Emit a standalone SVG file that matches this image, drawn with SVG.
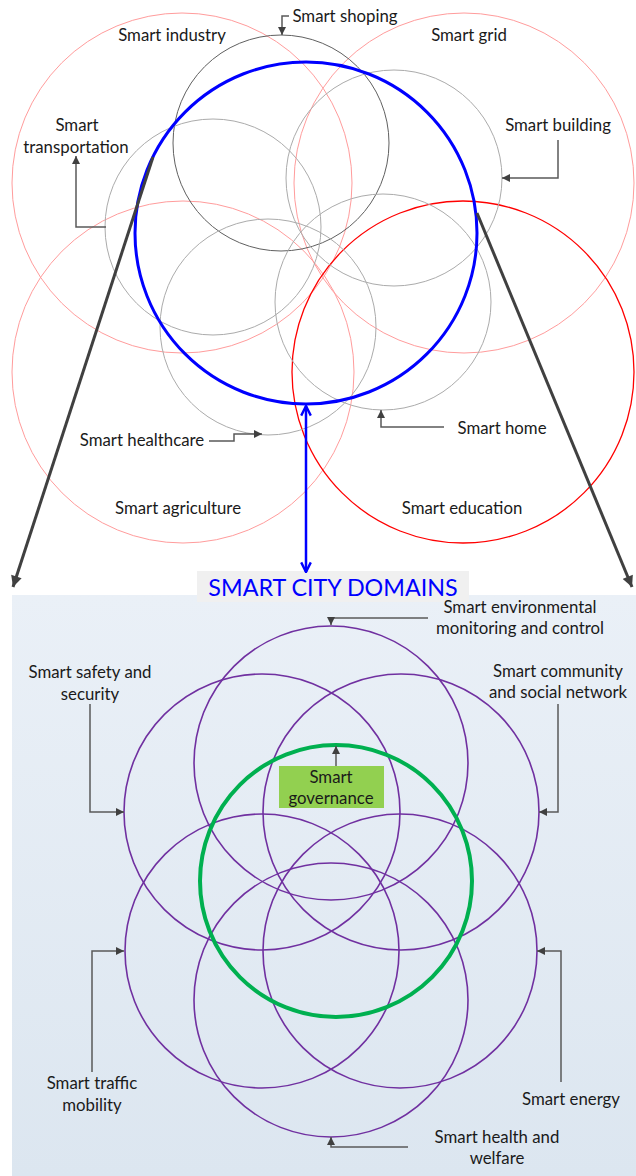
<svg xmlns="http://www.w3.org/2000/svg" width="636" height="1176" viewBox="0 0 636 1176">
<style>
text{font-family:Lato,"Liberation Sans",sans-serif;font-size:16.8px;fill:#1a1a1a;text-anchor:middle}
.pink{fill:none;stroke:#ff9c9c;stroke-width:1}
.red{fill:none;stroke:#ff0000;stroke-width:1.3}
.dg{fill:none;stroke:#606060;stroke-width:1}
.lg{fill:none;stroke:#ababab;stroke-width:1}
.pur{fill:none;stroke:#7030a0;stroke-width:1.6}
.con{fill:none;stroke:#595959;stroke-width:1.5;marker-end:url(#ah)}
.big{fill:none;stroke:#404040;stroke-width:3;marker-end:url(#bh)}
</style>
<defs>
<marker id="ah" viewBox="0 0 10 10" refX="10" refY="5" markerWidth="8" markerHeight="8" markerUnits="userSpaceOnUse" orient="auto"><path d="M0,0 L10,5 L0,10 z" fill="#404040"/></marker>
<marker id="bh" viewBox="0 0 10 10" refX="10" refY="5" markerWidth="13" markerHeight="11" markerUnits="userSpaceOnUse" orient="auto"><path d="M0,0 L10,5 L0,10 z" fill="#404040"/></marker>
<marker id="bc" viewBox="0 0 10 10" refX="9" refY="5" markerWidth="12" markerHeight="12" markerUnits="userSpaceOnUse" orient="auto-start-reverse"><path d="M1,1 L9,5 L1,9" fill="none" stroke="#0000ff" stroke-width="2"/></marker>
<linearGradient id="pg" x1="0" y1="0" x2="0" y2="1"><stop offset="0" stop-color="#eaf0f7"/><stop offset="1" stop-color="#dce6f0"/></linearGradient>
</defs>

<rect id="panel" x="12" y="595" width="624" height="581" fill="url(#pg)"/>

<g id="smart-industry"><circle class="pink" cx="182" cy="183" r="170"/><text x="172" y="41">Smart industry</text></g>
<g id="smart-grid"><circle class="pink" cx="464" cy="183" r="170"/><text x="469" y="41">Smart grid</text></g>
<g id="smart-agriculture"><circle class="pink" cx="183" cy="372" r="171"/><text x="178" y="514">Smart agriculture</text></g>
<g id="smart-education"><circle class="red" cx="463" cy="372" r="171"/><text x="462" y="514">Smart education</text></g>
<g id="smart-shoping"><circle class="dg" cx="281" cy="143" r="108"/><text x="345" y="22">Smart shoping</text></g>
<g id="smart-transportation"><circle class="lg" cx="213" cy="227" r="108"/><text x="77" y="131">Smart</text><text x="76" y="153">transportation</text></g>
<g id="smart-building"><circle class="lg" cx="394" cy="178" r="108"/><text x="558" y="131">Smart building</text></g>
<g id="smart-healthcare"><circle class="lg" cx="268" cy="327" r="108"/><text x="142" y="446">Smart healthcare</text></g>
<g id="smart-home"><circle class="lg" cx="383" cy="302" r="108"/><text x="502" y="434">Smart home</text></g>
<g id="smart-city-core"><circle cx="306" cy="233" r="171" fill="none" stroke="#0000ff" stroke-width="3"/></g>

<g id="smart-city-domains"><rect x="197" y="571" width="272" height="31" fill="#f0f0f0"/><text x="333" y="596" style="font-size:23.3px;fill:#0000ff">SMART CITY DOMAINS</text></g>

<g id="smart-environmental"><circle class="pur" cx="331" cy="763" r="137"/><text x="520" y="613">Smart environmental</text><text x="520" y="634">monitoring and control</text></g>
<g id="smart-safety"><circle class="pur" cx="262" cy="812" r="138"/><text x="90" y="678">Smart safety and</text><text x="90" y="700">security</text></g>
<g id="smart-community"><circle class="pur" cx="401" cy="812" r="138"/><text x="558" y="677">Smart community</text><text x="558" y="698">and social network</text></g>
<g id="smart-traffic"><circle class="pur" cx="262" cy="951" r="137"/><text x="92" y="1089">Smart traffic</text><text x="92" y="1111">mobility</text></g>
<g id="smart-energy"><circle class="pur" cx="400" cy="951" r="137"/><text x="571" y="1105">Smart energy</text></g>
<g id="smart-health"><circle class="pur" cx="331" cy="1000" r="137"/><text x="497" y="1143">Smart health and</text><text x="497" y="1164">welfare</text></g>
<g id="smart-governance-ring"><circle cx="336" cy="881" r="136" fill="none" stroke="#00b050" stroke-width="4"/></g>
<g id="smart-governance"><rect x="279" y="766" width="105" height="42" fill="#92d050"/><text x="331" y="783">Smart</text><text x="331" y="804">governance</text></g>

<g id="connectors">
<path class="con" d="M289 16 H282 V35"/>
<path class="con" d="M106 227 H76 V156"/>
<path class="con" d="M558 140 V178 H502"/>
<path class="con" d="M209 441 H234 V434 H262"/>
<path class="con" d="M444 427 H381 V410"/>
<path class="big" d="M153 157 L13 587"/>
<path class="big" d="M477 213 L632 587"/>
<path d="M306 406 V572" fill="none" stroke="#0000ff" stroke-width="2.5" marker-start="url(#bc)" marker-end="url(#bc)"/>
<path class="con" d="M428 618 H331 V625"/>
<path class="con" d="M90 704 V812 H124"/>
<path class="con" d="M558 704 V812 H539"/>
<path class="con" d="M92 1072 V951 H124"/>
<path class="con" d="M561 1082 V951 H537"/>
<path class="con" d="M408 1147 H331 V1137"/>
<path class="con" d="M336 766 V746"/>
</g>
</svg>
